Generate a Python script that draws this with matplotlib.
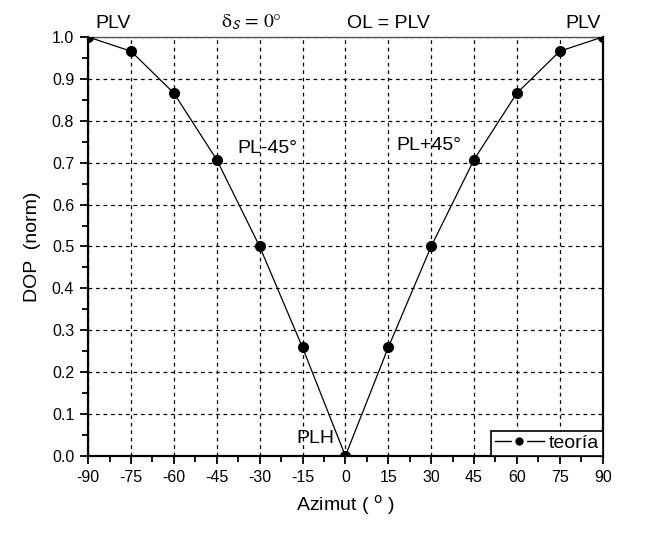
import numpy as np
import matplotlib
matplotlib.use('Agg')
import matplotlib.pyplot as plt
from matplotlib.lines import Line2D
from matplotlib.ticker import MultipleLocator, FormatStrFormatter

plt.rcParams['font.family'] = ['Liberation Sans', 'DejaVu Sans']

# azimuth angles (deg) and normalised degree of polarisation
azimut = [-90, -75, -60, -45, -30, -15, 0, 15, 30, 45, 60, 75, 90]
dop = [1.0, 0.966, 0.866, 0.707, 0.5, 0.259, 0.0, 0.259, 0.5, 0.707, 0.866, 0.966, 1.0]

fig = plt.figure(figsize=(6.48, 5.52), dpi=100)
ax = fig.add_axes([0.136, 0.174, 0.794, 0.759])

ax.plot(azimut, dop, color='black', lw=0.9, marker='o', ms=7, zorder=5)

ax.set_xlim(-90, 90)
ax.set_ylim(0, 1)
ax.xaxis.set_major_locator(MultipleLocator(15))
ax.xaxis.set_minor_locator(MultipleLocator(7.5))
ax.yaxis.set_major_locator(MultipleLocator(0.1))
ax.yaxis.set_minor_locator(MultipleLocator(0.05))
ax.xaxis.set_major_formatter(FormatStrFormatter('%d'))
ax.yaxis.set_major_formatter(FormatStrFormatter('%.1f'))
ax.tick_params(which='both', direction='out', width=1.3, labelsize=11.5)
ax.tick_params(which='major', length=6, pad=4)
ax.tick_params(which='minor', length=4)
ax.tick_params(top=False, right=False)
for side in ['left', 'bottom', 'right']:
    ax.spines[side].set_linewidth(1.6)
ax.spines['top'].set_linewidth(1.0)
ax.spines['top'].set_color('#555555')

ax.grid(True, which='major', ls=(0, (3, 3)), color='black', lw=0.9)

ax.set_xlabel('Azimut ( $^{\\mathsf{o}}$ )', fontsize=14, labelpad=6)
ax.set_ylabel('DOP  (norm)', fontsize=14, labelpad=8)

# state labels
fs = 14
ax.text(-87.5, 1.012, 'PLV', fontsize=fs, ha='left', va='bottom')
ax.text(-33, 1.012, r'$\mathrm{\delta}_{\mathsf{S}}\mathrm{\,=\,0°}$', fontsize=fs,
        ha='center', va='bottom', math_fontfamily='stix')
ax.text(15, 1.012, 'OL = PLV', fontsize=fs, ha='center', va='bottom')
ax.text(89.5, 1.012, 'PLV', fontsize=fs, ha='right', va='bottom')
ax.text(-37.8, 0.713, 'PL-45°', fontsize=fs, ha='left', va='bottom')
ax.text(17.7, 0.72, 'PL+45°', fontsize=fs, ha='left', va='bottom')
ax.text(-3.8, 0.022, 'PLH', fontsize=fs, ha='right', va='bottom')

# legend symbol: the white marker edge leaves a gap between line and dot
handle = Line2D([], [], color='black', lw=1.0, marker='o', ms=8.5,
                mfc='black', mec='white', mew=2.5)
leg = ax.legend([handle], ['teoría'], loc='lower right', fontsize=14,
                frameon=True, fancybox=False, borderaxespad=0,
                handlelength=2.5, handletextpad=0.25, borderpad=0.2,
                framealpha=1)
leg.get_frame().set_edgecolor('black')
leg.get_frame().set_linewidth(1.2)
leg.set_zorder(10)

fig.savefig('out.png', dpi=100)
